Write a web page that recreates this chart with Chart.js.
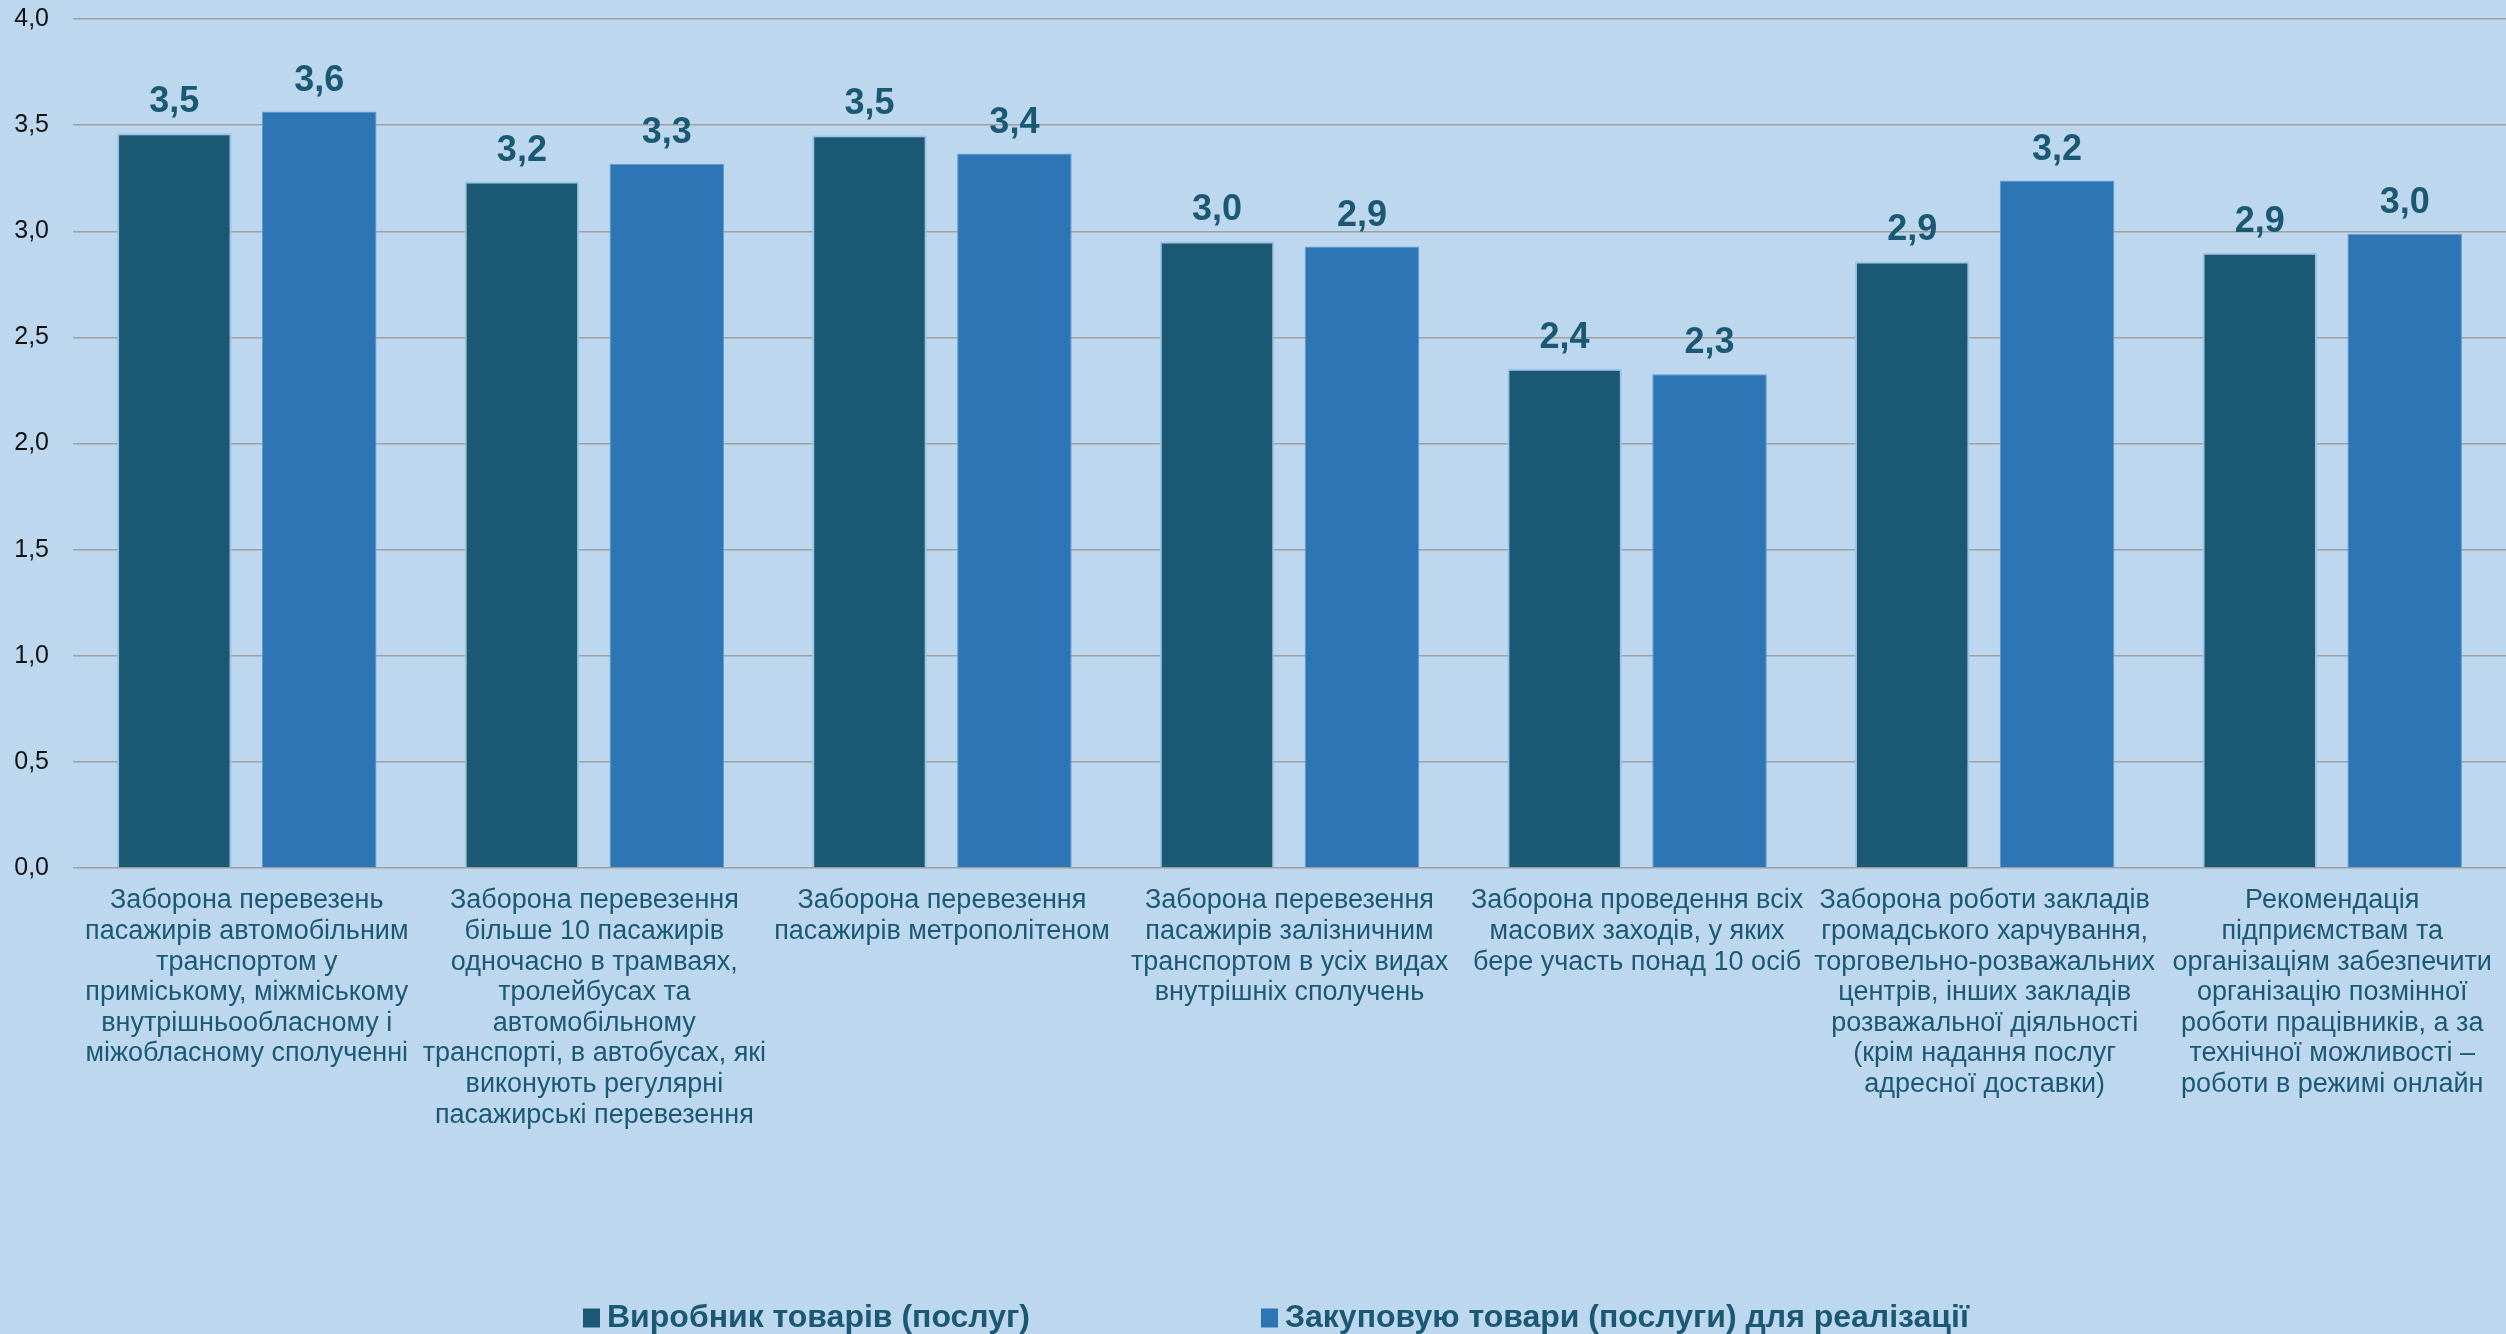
<!DOCTYPE html>
<html>
<head>
<meta charset="utf-8">
<script src="https://cdn.jsdelivr.net/npm/chart.js@4.4.1/dist/chart.umd.min.js"></script>
<style>
  html, body { margin: 0; padding: 0; background: #BDD7EE; }
  #wrap { width: 2506px; height: 1334px; position: relative; }
</style>
</head>
<body>
<div id="wrap"><canvas id="chart"></canvas></div>
<script>
const categories = [
  ["Заборона перевезень", "пасажирів автомобільним", "транспортом у", "приміському, міжміському", "внутрішньообласному і", "міжобласному сполученні"],
  ["Заборона перевезення", "більше 10 пасажирів", "одночасно в трамваях,", "тролейбусах та", "автомобільному", "транспорті, в автобусах, які", "виконують регулярні", "пасажирські перевезення"],
  ["Заборона перевезення", "пасажирів метрополітеном"],
  ["Заборона перевезення", "пасажирів залізничним", "транспортом в усіх видах", "внутрішніх сполучень"],
  ["Заборона проведення всіх", "масових заходів, у яких", "бере участь понад 10 осіб"],
  ["Заборона роботи закладів", "громадського харчування,", "торговельно-розважальних", "центрів, інших закладів", "розважальної діяльності", "(крім надання послуг", "адресної доставки)"],
  ["Рекомендація", "підприємствам та", "організаціям забезпечити", "організацію позмінної", "роботи працівників, а за", "технічної можливості –", "роботи в режимі онлайн"]
];

const seriesNames = ["Виробник товарів (послуг)", "Закуповую товари (послуги) для реалізації"];
const producerValues = [3.462, 3.234, 3.452, 2.952, 2.352, 2.858, 2.899];
const resellerValues = [3.564, 3.318, 3.366, 2.928, 2.326, 3.239, 2.988];
const yTicks = [0, 0.5, 1, 1.5, 2, 2.5, 3, 3.5, 4];

const darkTeal = "#1B5874";
const midBlue = "#2E75B6";

function comma(v) {
  return v.toFixed(1).replace(".", ",");
}

// value above every bar
const valueLabels = {
  id: "valueLabels",
  afterDatasetsDraw(chart) {
    const ctx = chart.ctx;
    ctx.save();
    ctx.font = "bold 36px 'Liberation Sans', Arial, sans-serif";
    ctx.fillStyle = darkTeal;
    ctx.textAlign = "center";
    ctx.textBaseline = "alphabetic";
    chart.data.datasets.forEach((ds, i) => {
      chart.getDatasetMeta(i).data.forEach((bar, j) => {
        ctx.fillText(comma(ds.data[j]), bar.x, bar.y - 21);
      });
    });
    ctx.restore();
  }
};

// multi-line category labels under each group, tight line pitch
const categoryLabels = {
  id: "categoryLabels",
  afterDraw(chart) {
    const xs = chart.scales.x;
    const ctx = chart.ctx;
    ctx.save();
    ctx.font = "27px 'Liberation Sans', Arial, sans-serif";
    ctx.fillStyle = darkTeal;
    ctx.textAlign = "center";
    ctx.textBaseline = "middle";
    chart.data.labels.forEach((lines, i) => {
      const cx = xs.getPixelForValue(i);
      lines.forEach((line, k) => {
        ctx.fillText(line, cx, xs.top + 33 + k * 30.6);
      });
    });
    ctx.restore();
  }
};

const bottomLegend = {
  id: "bottomLegend",
  afterDraw(chart) {
    const ctx = chart.ctx;
    const y = 1317;
    const box = 17, gap = 7, spacing = 231;
    ctx.save();
    ctx.font = "bold 32px 'Liberation Sans', Arial, sans-serif";
    ctx.textBaseline = "middle";
    ctx.textAlign = "left";
    let x = chart.chartArea.left + 510;
    chart.data.datasets.forEach((ds) => {
      ctx.fillStyle = ds.backgroundColor;
      ctx.fillRect(x, y - box / 2, box, box + 2);
      ctx.fillStyle = darkTeal;
      ctx.fillText(ds.label, x + box + gap, y + 1);
      x += box + gap + ctx.measureText(ds.label).width + spacing;
    });
    ctx.restore();
  }
};

const ctx = document.getElementById("chart").getContext("2d");
new Chart(ctx, {
  type: "bar",
  data: {
    labels: categories,
    datasets: [
      {
        label: seriesNames[0],
        data: producerValues,
        backgroundColor: darkTeal,
        borderColor: "#9DC3E6",
        borderWidth: 2,
        categoryPercentage: 0.834,
        barPercentage: 0.79
      },
      {
        label: seriesNames[1],
        data: resellerValues,
        backgroundColor: midBlue,
        borderColor: "#5B9BD5",
        borderWidth: 1,
        categoryPercentage: 0.834,
        barPercentage: 0.79
      }
    ]
  },
  options: {
    responsive: true,
    maintainAspectRatio: false,
    animation: false,
    layout: { padding: 0 },
    plugins: {
      legend: { display: false },
      tooltip: { enabled: false }
    },
    scales: {
      x: {
        grid: { display: false, drawTicks: false },
        border: { display: false },
        ticks: { display: false },
        afterFit(scale) { scale.height = 466; }
      },
      y: {
        min: 0,
        max: 4,
        afterBuildTicks(scale) { scale.ticks = yTicks.map(v => ({ value: v })); },
        grid: { color: "#A0A0A0", lineWidth: 1.5, drawTicks: false },
        border: { display: false },
        ticks: {
          padding: 24,
          color: "#111111",
          font: { family: "'Liberation Sans', Arial, sans-serif", size: 25 },
          callback: v => comma(v)
        },
        afterFit(scale) {
          scale.width = 73;
          scale.paddingTop = 19;
        }
      }
    }
  },
  plugins: [valueLabels, categoryLabels, bottomLegend]
});
</script>
</body>
</html>
